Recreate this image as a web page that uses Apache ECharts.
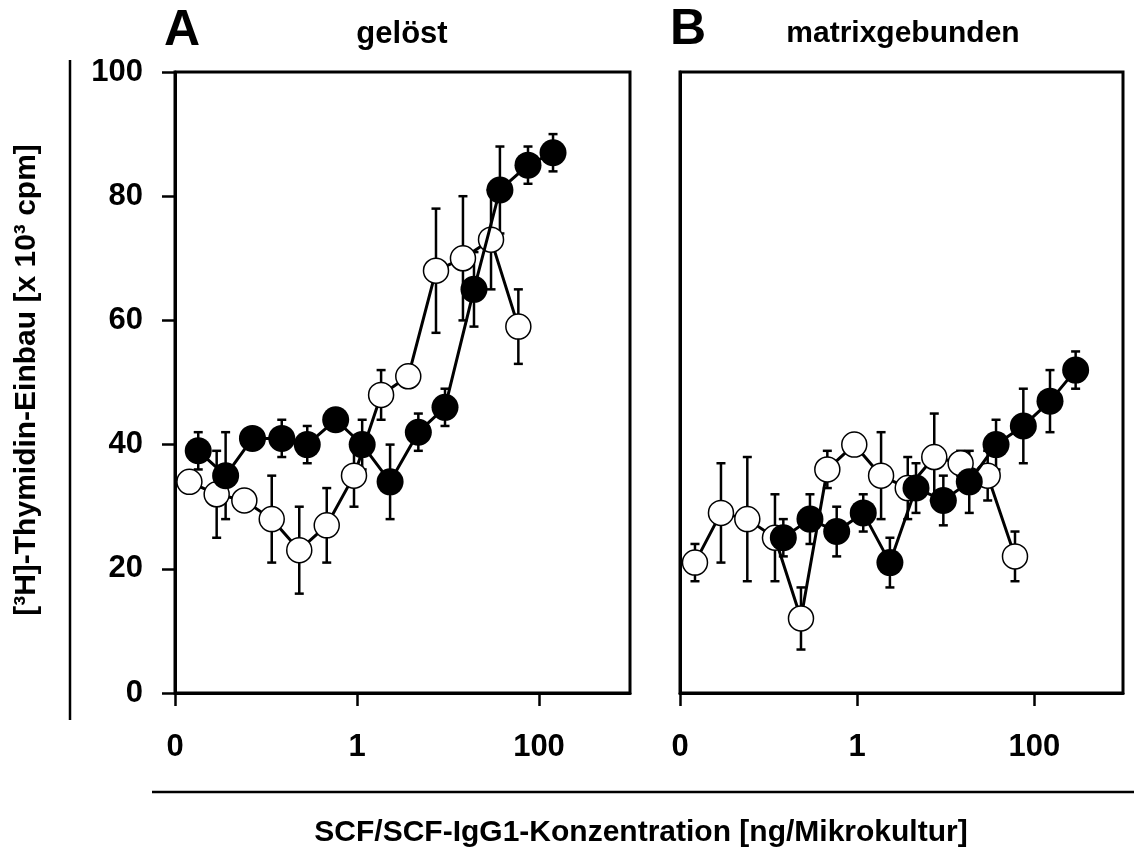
<!DOCTYPE html>
<html>
<head>
<meta charset="utf-8">
<script src="https://cdn.jsdelivr.net/npm/echarts@6/dist/echarts.min.js"></script>
<style>
html,body{margin:0;padding:0;background:#fff;}
#chart{width:1134px;height:854px;}
</style>
</head>
<body>
<div id="chart"></div>
<script>
// ---- Data (concentration in ng/Mikrokultur, [3H]-thymidine x10^3 cpm, ± error) ----
const panelTitles = ["gelöst", "matrixgebunden"];
const panelLetters = ["A", "B"];
const yTicks = [0, 20, 40, 60, 80, 100];
const xTickExps = [-2, 0, 2];
const xTickLabels = ["0", "1", "100"];

// Panel A (gelöst) - filled circles
const aFilledConc = [0.018, 0.036, 0.071, 0.149, 0.284, 0.583, 1.14, 2.31, 4.72, 9.27, 19.3, 37.2, 75.7, 142.6];
const aFilledMean = [39, 35, 41, 41, 40, 44, 40, 34, 42, 46, 65, 81, 85, 87];
const aFilledErr  = [3, 7, 1.5, 3, 3, 1.5, 4, 6, 3, 3, 6, 7, 3, 3];
// Panel A - open circles
const aOpenConc = [0.0144, 0.0287, 0.0578, 0.1156, 0.232, 0.465, 0.927, 1.84, 3.66, 7.38, 14.6, 29.7, 59.3];
const aOpenMean = [34, 32, 31, 28, 23, 27, 35, 48, 51, 68, 70, 73, 59];
const aOpenErr  = [1.5, 7, 1.5, 7, 7, 6, 5, 4, 1.5, 10, 10, 8, 6];

// Panel B (matrixgebunden) - filled circles
const bFilledConc = [0.1466, 0.293, 0.587, 1.17, 2.34, 4.61, 9.38, 18.4, 36.9, 75, 150, 292];
const bFilledMean = [25, 28, 26, 29, 21, 33, 31, 34, 40, 43, 47, 52];
const bFilledErr  = [3, 4, 4, 3, 4, 4, 4, 5, 4, 6, 5, 3];
// Panel B - open circles
const bOpenConc = [0.01476, 0.029, 0.0575, 0.118, 0.232, 0.460, 0.927, 1.86, 3.72, 7.41, 14.7, 29.7, 60.4];
const bOpenMean = [21, 29, 28, 25, 12, 36, 40, 35, 33, 38, 37, 35, 22];
const bOpenErr  = [3, 8, 10, 7, 5, 3, 1.5, 7, 5, 7, 2, 4, 4];

// ---- Build ----
const FONT = '"Liberation Sans", Arial, Helvetica, sans-serif';
const chart = echarts.init(document.getElementById('chart'), null, {renderer: 'canvas'});

function pts(conc, mean) {
  return conc.map((c, i) => [Math.log10(c), mean[i]]);
}
function errs(conc, mean, err) {
  return conc.map((c, i) => [Math.log10(c), mean[i] - err[i], mean[i] + err[i]]);
}
function renderErr(params, api) {
  const x = api.value(0), lo = api.value(1), hi = api.value(2);
  const a = api.coord([x, hi]), b = api.coord([x, lo]);
  const hw = 4.5;
  const style = {stroke: '#000', lineWidth: 2.5, fill: null};
  return {type: 'group', children: [
    {type: 'line', shape: {x1: a[0], y1: a[1], x2: b[0], y2: b[1]}, style: style},
    {type: 'line', shape: {x1: a[0] - hw, y1: a[1], x2: a[0] + hw, y2: a[1]}, style: style},
    {type: 'line', shape: {x1: b[0] - hw, y1: b[1], x2: b[0] + hw, y2: b[1]}, style: style}
  ]};
}
function errSeries(idx, conc, mean, err) {
  return {type: 'custom', xAxisIndex: idx, yAxisIndex: idx, renderItem: renderErr,
    encode: {x: 0, y: [1, 2]}, data: errs(conc, mean, err), z: 1, silent: true, clip: false};
}
function lineSeries(idx, conc, mean, filled) {
  return {type: 'line', xAxisIndex: idx, yAxisIndex: idx, data: pts(conc, mean),
    symbol: 'circle', symbolSize: filled ? 27 : 25, showAllSymbol: true,
    lineStyle: {color: '#000', width: 3},
    itemStyle: filled ? {color: '#000', borderColor: '#000', borderWidth: 0}
                      : {color: '#fff', borderColor: '#000', borderWidth: 1.5},
    z: filled ? 3 : 2, silent: true, clip: false};
}

function xAxisCfg(idx) {
  return {type: 'value', gridIndex: idx, min: -2, max: 3,
    axisLine: {show: true, onZero: false, lineStyle: {color: '#000', width: 3}},
    axisTick: {show: true, inside: false, length: 13, customValues: xTickExps, lineStyle: {color: '#000', width: 2.5}},
    axisLabel: {show: true, customValues: xTickExps, margin: 39, color: '#000', fontFamily: FONT, fontWeight: 'bold', fontSize: 31,
      formatter: function (v) { const i = xTickExps.indexOf(v); return i >= 0 ? xTickLabels[i] : ''; }},
    splitLine: {show: false}};
}
function yAxisCfg(idx) {
  return {type: 'value', gridIndex: idx, min: yTicks[0], max: yTicks[yTicks.length - 1], interval: 20,
    axisLine: {show: true, onZero: false, lineStyle: {color: '#000', width: 3}},
    axisTick: {show: idx === 0, inside: false, length: 13, lineStyle: {color: '#000', width: 2.5}},
    axisLabel: {show: idx === 0, margin: 32, color: '#000', fontFamily: FONT, fontWeight: 'bold', fontSize: 31},
    splitLine: {show: false}};
}

const option = {
  animation: false,
  backgroundColor: '#fff',
  grid: [
    {left: 175, top: 72, width: 455, height: 621, show: true, borderColor: '#000', borderWidth: 3, backgroundColor: 'transparent'},
    {left: 680, top: 72, width: 443, height: 621, show: true, borderColor: '#000', borderWidth: 3, backgroundColor: 'transparent'}
  ],
  xAxis: [xAxisCfg(0), xAxisCfg(1)],
  yAxis: [yAxisCfg(0), yAxisCfg(1)],
  series: [
    errSeries(0, aOpenConc, aOpenMean, aOpenErr),
    errSeries(0, aFilledConc, aFilledMean, aFilledErr),
    lineSeries(0, aOpenConc, aOpenMean, false),
    lineSeries(0, aFilledConc, aFilledMean, true),
    errSeries(1, bOpenConc, bOpenMean, bOpenErr),
    errSeries(1, bFilledConc, bFilledMean, bFilledErr),
    lineSeries(1, bOpenConc, bOpenMean, false),
    lineSeries(1, bFilledConc, bFilledMean, true)
  ],
  graphic: [
    {type: 'line', shape: {x1: 70, y1: 60, x2: 70, y2: 720}, style: {stroke: '#000', lineWidth: 2.5}},
    {type: 'line', shape: {x1: 152, y1: 792, x2: 1134, y2: 792}, style: {stroke: '#000', lineWidth: 2.5}},
    {type: 'text', x: 182, y: 31, style: {text: panelLetters[0], font: 'bold 50px ' + FONT, fill: '#000', textAlign: 'center', textVerticalAlign: 'middle'}},
    {type: 'text', x: 402, y: 34, style: {text: panelTitles[0], font: 'bold 31px ' + FONT, fill: '#000', textAlign: 'center', textVerticalAlign: 'middle'}},
    {type: 'text', x: 688, y: 30, style: {text: panelLetters[1], font: 'bold 50px ' + FONT, fill: '#000', textAlign: 'center', textVerticalAlign: 'middle'}},
    {type: 'text', x: 903, y: 34, style: {text: panelTitles[1], font: 'bold 30px ' + FONT, fill: '#000', textAlign: 'center', textVerticalAlign: 'middle'}},
    {type: 'text', x: 27, y: 380, rotation: Math.PI / 2, style: {text: '[³H]-Thymidin-Einbau [x 10³ cpm]', font: 'bold 30px ' + FONT, fill: '#000', textAlign: 'center', textVerticalAlign: 'middle'}},
    {type: 'text', x: 641, y: 833, style: {text: 'SCF/SCF-IgG1-Konzentration [ng/Mikrokultur]', font: 'bold 30px ' + FONT, fill: '#000', textAlign: 'center', textVerticalAlign: 'middle'}}
  ]
};
chart.setOption(option);
</script>
</body>
</html>
